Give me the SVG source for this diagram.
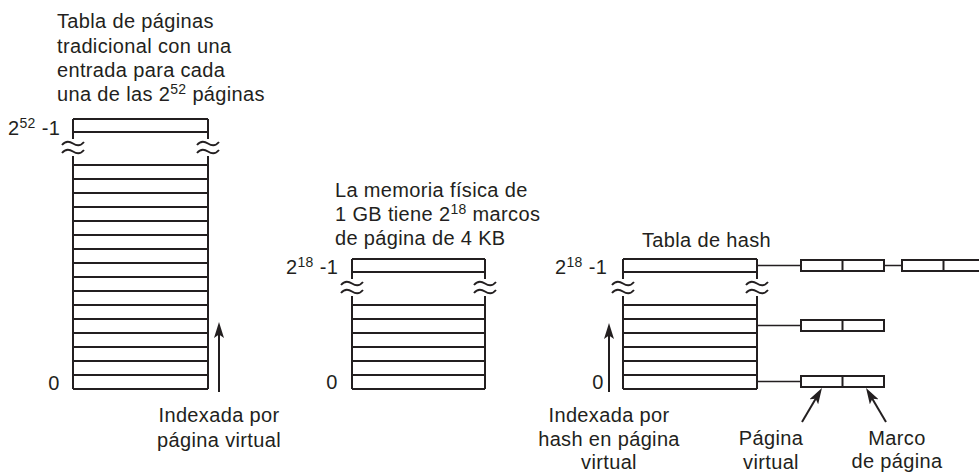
<svg xmlns="http://www.w3.org/2000/svg" xmlns:xlink="http://www.w3.org/1999/xlink" width="979" height="473" viewBox="0 0 979 473">
<style>
.ln{stroke:#231f20;stroke-width:2;fill:none}
.thin{stroke:#231f20;stroke-width:1.6;fill:none}
.tl{stroke:#231f20;stroke-width:1.9;fill:none}
.box{fill:#fff;stroke:#231f20;stroke-width:2}
.t{font-family:"Liberation Sans",Arial,Helvetica,sans-serif;font-size:20px;fill:#231f20;letter-spacing:0.35px}
.m{text-anchor:middle}
.sup{font-size:14px}
</style>
<defs>
<path id="tilde" d="M-11,1.5 C-7,-3.5 -3,-2 0,0 S7,3.5 11,-1.5" class="tl"/>
<marker id="ah" viewBox="0 0 16 10" refX="8" refY="5" markerWidth="16" markerHeight="10" markerUnits="userSpaceOnUse" orient="auto">
<path d="M0,0 L16,5 L0,10 L3.5,5 z" fill="#231f20"/>
</marker>
</defs>
<rect width="979" height="473" fill="#fff"/>

<g id="table-traditional">
<path class="ln" d="M73,119 H208 M73,132 H208 M73,119 V139 M208,119 V139 M73,156 V389 M208,156 V389
M73,165 H208 M73,179 H208 M73,193 H208 M73,207 H208 M73,221 H208 M73,235 H208 M73,249 H208 M73,263 H208
M73,277 H208 M73,291 H208 M73,305 H208 M73,319 H208 M73,333 H208 M73,347 H208 M73,361 H208 M73,375 H208 M73,389 H208"/>
<use xlink:href="#tilde" x="73" y="143.5"/>
<use xlink:href="#tilde" x="73" y="151.5"/>
<use xlink:href="#tilde" x="208" y="143.5"/>
<use xlink:href="#tilde" x="208" y="151.5"/>
<text class="t" x="57" y="28">Tabla de páginas</text>
<text class="t" x="57" y="52.5">tradicional con una</text>
<text class="t" x="57" y="77">entrada para cada</text>
<text class="t" x="57" y="101">una de las 2<tspan class="sup" dy="-7">52</tspan><tspan dy="7"> páginas</tspan></text>
<text class="t" x="8" y="135">2<tspan class="sup" dy="-7">52</tspan><tspan dy="7"> -1</tspan></text>
<text class="t m" x="54" y="390">0</text>
<text class="t m" x="219" y="422">Indexada por</text>
<text class="t m" x="219" y="446.5">página virtual</text>
</g>

<g id="table-physical">
<path class="ln" d="M352,259 H485 M352,272 H485 M352,259 V279 M485,259 V279 M352,296 V389 M485,296 V389
M352,305 H485 M352,319 H485 M352,333 H485 M352,347 H485 M352,361 H485 M352,375 H485 M352,389 H485"/>
<use xlink:href="#tilde" x="352" y="283.5"/>
<use xlink:href="#tilde" x="352" y="291.5"/>
<use xlink:href="#tilde" x="485" y="283.5"/>
<use xlink:href="#tilde" x="485" y="291.5"/>
<text class="t" x="335" y="197">La memoria física de</text>
<text class="t" x="335" y="221">1 GB tiene 2<tspan class="sup" dy="-7">18</tspan><tspan dy="7"> marcos</tspan></text>
<text class="t" x="335" y="245">de página de 4 KB</text>
<text class="t" x="286" y="274">2<tspan class="sup" dy="-7">18</tspan><tspan dy="7"> -1</tspan></text>
<text class="t m" x="332" y="389">0</text>
</g>

<g id="table-hash">
<path class="ln" d="M623,259 H757 M623,272 H757 M623,259 V279 M757,259 V279 M623,296 V389 M757,296 V389
M623,305 H757 M623,319 H757 M623,333 H757 M623,347 H757 M623,361 H757 M623,375 H757 M623,389 H757"/>
<use xlink:href="#tilde" x="623" y="283.5"/>
<use xlink:href="#tilde" x="623" y="291.5"/>
<use xlink:href="#tilde" x="757" y="283.5"/>
<use xlink:href="#tilde" x="757" y="291.5"/>
<text class="t" x="642" y="247">Tabla de hash</text>
<text class="t" x="555" y="274">2<tspan class="sup" dy="-7">18</tspan><tspan dy="7"> -1</tspan></text>
<text class="t m" x="598" y="389">0</text>
<text class="t m" x="609" y="422">Indexada por</text>
<text class="t m" x="609" y="446">hash en página</text>
<text class="t m" x="609" y="468.5">virtual</text>
</g>

<g id="entry-1a">
<rect class="box" x="801" y="260" width="83" height="11"/>
<path class="ln" d="M842.5,260 V271"/>
</g>
<g id="entry-1b">
<rect class="box" x="902" y="260" width="83" height="11"/>
<path class="ln" d="M943.5,260 V271"/>
</g>
<g id="entry-2">
<rect class="box" x="801" y="320" width="83" height="11"/>
<path class="ln" d="M842.5,320 V331"/>
</g>
<g id="entry-3">
<rect class="box" x="801" y="376" width="83" height="11"/>
<path class="ln" d="M842.5,376 V387"/>
</g>

<g id="label-pagina-virtual">
<text class="t m" x="771" y="445">Página</text>
<text class="t m" x="771" y="468.5">virtual</text>
</g>
<g id="label-marco">
<text class="t m" x="897" y="445">Marco</text>
<text class="t m" x="897" y="467.5">de página</text>
</g>

<g id="connectors">
<path class="thin" d="M757,265.5 H801 M884,265.5 H902 M757,325.5 H801 M757,381.5 H801"/>
<line class="ln" x1="219" y1="392" x2="219" y2="330" marker-end="url(#ah)"/>
<line class="ln" x1="609" y1="392" x2="609" y2="331" marker-end="url(#ah)"/>
<line class="ln" x1="802" y1="422" x2="817.9" y2="394.9" marker-end="url(#ah)"/>
<line class="ln" x1="886" y1="422" x2="870.1" y2="394.9" marker-end="url(#ah)"/>
</g>
</svg>
